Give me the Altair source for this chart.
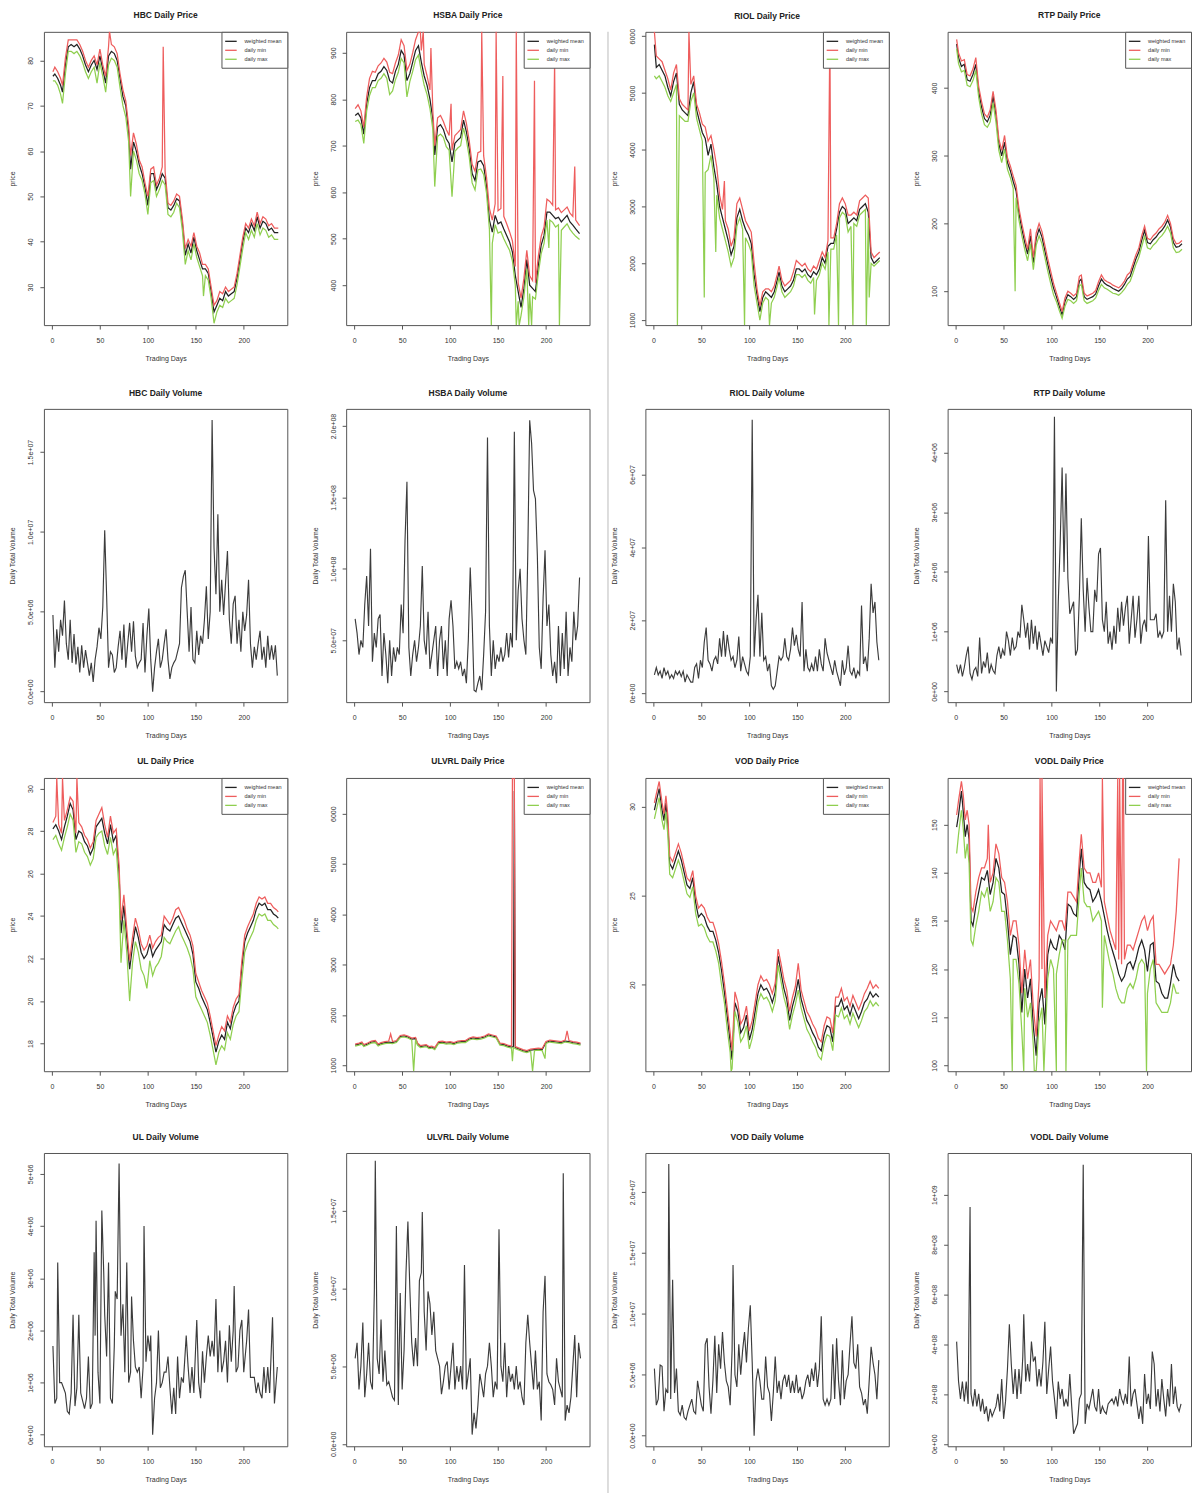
import altair as alt
import pandas as pd

FONT = "Liberation Sans"
TXT = "#333333"
W, H = 244, 294
XDOM = [-8.4, 245.4]
XTICKS = [0, 50, 100, 150, 200]
SERIES = ["weighted mean", "daily min", "daily max"]
COLORS = ["#222222", "#ee5d5d", "#8fcf4f"]
VOL_COLOR = "#3c3c3c"

# ---------------- price data ----------------
HBC_DAYS = [1,3,6,9,11,14,17,20,23,26,29,32,35,38,41,44,47,50,53,56,59,62,65,68,71,74,77,80,82,85,
            88,91,94,97,100,103,106,109,112,115,118,121,124,127,130,133,136,139,142,145,148,151,154,157,160,
            163,166,169,172,175,178,181,184,187,190,193,196,199,202,205,208,211,214,217,220,223,226,229,232,236]
HBC_MEAN = [76.5,77,76,74.5,73, 79,83,83.5,83,83.5, 82.5,81,79,77.5,79, 80,78,81,78,75, 81,82,81.5,80,76,
            72,70,64,56,62, 60,57,55,52,48, 55,55,51.5,53,55, 54,47.5,47,48,49.5, 49,44,37,39.5,37.5,
            41,38,36,34,34, 33,29,24.5,26,27.5, 27,29,28,28.5,29, 32,36,40,43,42, 44,42.5,45.5,43,44.5,
            44,42.5,43,42,42]
HBC_MIN = [77.5,78.5,77.5,76,74.5, 80.5,84.5,84.5,84.5,84.5, 83.5,82,80,78.5,80, 81,79,82.5,79,76.5,
           83,83.5,83,81.5,77, 73.5,71,65.5,59,64, 61.5,58,56.5,53,50, 56,56.5,52.5,54,56.5, 55.5,48.5,48,49,50.5,
           50,45,38.5,40.5,39, 42,39,37.5,35,35, 34,30,26,27,29, 28.5,30,29,29.5,30, 33,37,41,44,43,
           45,43.5,46.5,44,45.5, 45,43.5,44,43,43]
HBC_MAX = [75.5,75.5,74.5,72.5,70.5, 77,82,82,81.5,82, 81,79.5,77.5,76,77.5, 78.5,75,79.5,76.5,73,
           79,80.5,80,78.5,74, 70,67.5,62,50,60, 58,55,53.5,50.5,46, 53,53.5,50,51.5,53.5, 52.5,46,45.5,46.5,48.5,
           47.5,42.5,35,38,36, 39.5,36.5,34.5,32.5,32.5, 31.5,27.5,22,24.5,26, 25.5,27.5,26.5,27,27.5,
           30.5,34.5,38.5,42,40.5, 42.5,41,44,41.5,43, 42.5,41,41.5,40.5,40.5]
HBC_MIN_SPIKES = [(60, 86.4), (116, 83)]
HBC_MAX_SPIKES = [(158, 28)]

HSBA_DAYS = [1,4,7,10,13,16,19,22,25,28,31,34,37,40,43,46,49,52,55,58,61,64,67,70,73,76,79,82,84,87,
             90,93,96,99,102,105,108,111,114,117,120,123,126,129,132,135,138,141,144,147,150,153,156,159,162,
             165,168,171,174,177,180,183,186,189,192,195,198,201,204,207,210,213,216,219,222,225,228,231,235]
HSBA_MEAN = [765,770,760,725,790, 825,840,840,855,860, 870,862,840,835,860, 875,905,895,840,855,
             880,905,915,880,850, 830,800,757,680,740, 745,735,715,705,665, 705,712,718,755,730,
             693,640,625,665,668, 657,614,540,514,550, 532,536,521,507,493, 471,421,386,352,393,
             455,400,393,386,443, 486,507,557,557,550, 543,546,536,543,550, 536,529,521,511]
HSBA_MIN = [780,788,775,740,805, 845,860,858,872,878, 888,880,858,855,878, 895,928,915,862,875,
            900,928,945,905,875, 850,820,775,700,760, 765,752,735,722,690, 722,728,735,775,748,
            710,660,645,685,688, 678,632,565,540,575, 560,565,548,532,515, 495,440,405,372,415,
            475,420,410,405,462, 505,525,585,580,572, 562,566,556,562,568, 555,548,540,528]
HSBA_MAX = [752,755,745,705,775, 808,825,825,840,845, 855,845,810,818,842, 858,888,878,805,838,
            860,885,895,860,830, 810,780,735,612,720, 725,718,698,690,590, 688,695,700,738,712,
            675,620,605,648,650, 638,598,520,490,530, 512,515,500,487,475, 452,400,365,335,375,
            435,382,375,370,425, 468,490,540,540,535, 525,530,518,525,532, 520,512,505,498]
HSBA_MIN_SPIKES = [(69, 946), (72, 946), (80, 910), (101, 790), (133, 946), (148, 946), (155, 850),
                   (169, 946), (188, 840), (209, 880), (230, 655)]
HSBA_MAX_SPIKES = [(143, 313), (169, 313), (172, 313), (182, 313), (185, 313), (203, 480), (214, 313)]

RIOL_DAYS = [1,3,6,9,12, 15,18,21,24,27, 30,33,36,39,42, 45,48,51,54,57, 60,63,66,69,72, 75,78,81,84,87,
             90,93,96,99,102, 105,108,111,114,117, 120,123,126,129,131, 134,137,140,143,146, 149,152,155,158,161,
             164,167,170,173,176, 179,182,185,188,191, 194,197,200,203,206, 209,212,215,218,221, 224,227,230,233,236]
RIOL_MEAN = [5850,5450,5500,5400,5300, 5100,4950,5200,5350,4800, 4700,4650,4600,5000,5200, 4700,4500,4300,4200,3900,
             4100,3700,3400,3000,2800, 2600,2400,2150,2300,2800, 2950,2750,2600,2500,2350, 1800,1450,1150,1400,1500,
             1450,1400,1500,1700,1850, 1600,1500,1550,1600,1700, 1900,1900,1850,1900,1800, 1750,1850,1800,1900,2100,
             2000,2300,2350,2350,2600, 2900,3000,2950,2700,2750, 2800,2750,2950,3000,3050, 2900,2100,2000,2050,2100]
RIOL_MIN = [6076,5650,5600,5550,5400, 5250,5050,5350,5500,4900, 4800,4750,4700,5150,5300, 4800,4650,4450,4400,4150,
            4250,4000,3700,3200,2950, 2750,2600,2300,2450,3050, 3150,2950,2750,2650,2550, 2000,1550,1250,1500,1550,
            1550,1500,1600,1800,1950, 1700,1600,1650,1700,1850, 2050,2000,1950,2000,1900, 1850,1950,1900,2050,2200,
            2100,2400,2450,2450,2700, 3050,3150,3050,2850,2850, 2900,2850,3100,3150,3200, 3150,2200,2100,2150,2200]
RIOL_MAX = [5300,5250,5300,5200,5100, 4950,4850,5000,5150,4600, 4550,4500,4500,4850,5000, 4550,4350,4150,3600,3650,
            3900,3500,3200,2800,2600, 2400,2200,1950,2100,2650, 2800,2600,2450,2350,2200, 1600,1300,1000,1300,1400,
            1350,1300,1400,1600,1750, 1500,1400,1450,1500,1600, 1800,1800,1750,1800,1700, 1650,1750,1700,1800,2000,
            1900,2200,2250,2250,2500, 2800,2900,2850,2550,2650, 2700,2650,2850,2900,2950, 2800,2000,1950,2000,2050]
RIOL_MIN_SPIKES = [(37, 6076), (74, 3450), (184, 6076)]
RIOL_MAX_SPIKES = [(25, 912), (53, 1400), (65, 2200), (95, 912), (121, 912), (168, 1100), (183, 912),
                   (193, 912), (208, 912), (222, 912), (225, 1400)]

RTP_DAYS = RIOL_DAYS
RTP_MEAN = [465,445,432,435,412, 410,420,435,395,372, 355,350,360,388,360, 318,300,320,290,278,
            262,248,215,192,172, 155,182,142,178,192, 180,160,140,122,105, 92,78,65,85,95,
            92,88,92,115,118, 92,88,90,92,96, 108,118,112,109,107, 104,102,100,104,110,
            118,122,135,148,158, 175,190,172,170,176, 180,186,190,196,205, 195,172,165,166,170]
RTP_MIN = [472,452,440,442,420, 418,428,445,402,380, 362,357,368,395,368, 325,308,330,297,285,
           270,256,222,200,180, 162,192,150,186,200, 188,168,148,130,112, 98,84,70,90,100,
           97,93,97,122,124, 97,93,95,97,101, 114,124,117,114,112, 109,107,105,109,115,
           124,128,141,154,164, 182,196,178,176,182, 186,192,196,202,212, 200,178,170,171,175]
RTP_MAX = [458,436,424,426,404, 402,411,426,386,362, 346,342,350,378,350, 308,290,310,280,268,
           252,238,205,182,162, 145,170,132,168,182, 170,150,130,112,95, 85,72,60,78,88,
           86,82,86,108,110, 86,82,84,86,90, 101,110,105,103,100, 97,96,94,98,103,
           110,115,127,140,150, 166,181,164,162,168, 172,178,182,188,196, 186,164,157,158,162]
RTP_MIN_SPIKES = []
RTP_MAX_SPIKES = [(62, 100)]

UL_DAYS = [1,4,7,10,13, 16,19,22,25,28, 31,34,37,40,43, 46,49,52,55,58, 61,64,67,70,72, 75,78,81,84,87,
           90,93,96,99,102, 105,108,111,114,117, 120,123,126,129,132, 135,138,141,144,147, 150,153,156,159,162,
           165,168,171,174,177, 180,183,186,189,192, 195,198,201,204,207, 210,213,216,219,222, 225,228,231,234,236]
UL_MEAN = [28.1,28.3,28.0,27.6,28.2, 28.7,29.3,29.0,27.6,28.0, 27.9,27.5,27.3,26.9,27.2, 28.2,28.4,28.6,27.9,27.4,
           28.3,27.5,27.8,26.0,23.2, 24.5,23.0,21.5,22.6,23.5, 23.0,22.3,22.0,22.2,22.7, 22.1,22.4,22.6,22.8,23.6,
           23.4,23.3,23.6,23.9,24.0, 23.7,23.4,23.1,22.8,22.2, 20.9,20.6,20.2,19.9,19.6, 19.0,18.3,17.6,18.1,18.4,
           18.2,19.0,18.7,19.4,19.8, 20.0,21.6,22.8,23.2,23.5, 23.8,24.3,24.6,24.5,24.6, 24.3,24.3,24.1,24.0,23.9]
UL_MIN = [28.4,28.7,28.3,27.9,28.5, 29.0,29.6,29.4,27.9,28.4, 28.2,27.8,27.6,27.2,27.5, 28.5,28.8,29.1,28.3,27.7,
          28.7,27.9,28.1,26.4,23.8, 25.0,23.4,21.9,23.0,23.9, 23.4,22.7,22.4,22.6,23.1, 22.5,22.8,23.0,23.1,24.0,
          23.8,23.6,23.9,24.3,24.4, 24.1,23.8,23.4,23.1,22.6, 21.3,20.9,20.5,20.2,19.9, 19.3,18.6,17.9,18.4,18.8,
          18.6,19.3,19.0,19.7,20.1, 20.3,21.9,23.1,23.5,23.8, 24.1,24.6,24.9,24.8,24.9, 24.6,24.6,24.4,24.3,24.2]
UL_MAX = [27.6,27.8,27.4,27.1,27.7, 28.2,28.8,28.5,27.0,27.5, 27.4,27.0,26.8,26.4,26.7, 27.7,27.9,28.0,27.3,26.9,
          27.7,26.9,27.2,25.2,21.8, 23.8,22.3,20.0,21.8,22.8, 22.3,21.5,21.2,20.6,21.9, 21.2,21.6,21.8,22.1,23.0,
          22.8,22.7,23.0,23.3,23.5, 23.1,22.8,22.5,22.1,21.5, 20.2,19.9,19.6,19.3,19.0, 18.4,17.7,17.0,17.6,17.9,
          17.7,18.5,18.2,18.9,19.3, 19.5,21.0,22.3,22.7,23.0, 23.3,23.8,24.1,24.0,24.1, 23.8,23.8,23.6,23.5,23.4]
UL_MIN_SPIKES = [(5, 30.5), (11, 30.5), (26, 30.5)]
UL_MAX_SPIKES = []

ULVRL_DAYS = [1,5,8,10,14, 18,22,25,28,32, 36,40,44,48,52, 56,60,64,66,69, 72,75,78,81,84, 88,92,96,100,104,
              108,112,116,120,124, 128,132,136,140,144, 148,152,156,160,164, 166,167,168,172,176,
              180,184,188,192,196, 200,204,208,212,216, 220,224,228,232,236]
ULVRL_MEAN = [1400,1420,1440,1390,1420, 1460,1470,1400,1430,1450, 1460,1450,1470,1570,1580, 1560,1520,1530,1420,1370,
              1380,1390,1350,1360,1330, 1450,1460,1440,1450,1430, 1460,1470,1470,1520,1540, 1530,1540,1560,1600,1580,
              1560,1420,1410,1380,1360, 1370,6450,1350,1320,1290, 1270,1300,1310,1320,1310, 1450,1480,1470,1460,1450,
              1480,1470,1450,1440,1420]
ULVRL_MIN = [1420,1440,1460,1410,1440, 1480,1490,1420,1450,1470, 1480,1470,1490,1590,1600, 1580,1540,1550,1440,1390,
             1400,1410,1370,1380,1350, 1470,1480,1460,1470,1450, 1480,1490,1490,1540,1560, 1550,1560,1580,1620,1600,
             1580,1440,1430,1400,1380, 6710,6710,1370,1340,1310, 1290,1320,1330,1340,1330, 1470,1500,1490,1480,1470,
             1500,1490,1470,1460,1440]
ULVRL_MAX = [1380,1400,1420,1370,1400, 1440,1450,1380,1410,1430, 1440,1430,1450,1550,1560, 1540,1500,1510,1400,1350,
             1360,1370,1330,1340,1310, 1430,1440,1420,1430,1410, 1440,1450,1450,1500,1520, 1510,1520,1540,1580,1560,
             1540,1400,1390,1360,1340, 1350,1340,1330,1300,1270, 1250,1280,1290,1300,1290, 1430,1460,1450,1440,1430,
             1460,1450,1430,1420,1400]
ULVRL_MIN_SPIKES = [(38, 1620), (165, 6710), (222, 1680)]
ULVRL_MAX_SPIKES = [(62, 880), (165, 1080), (186, 880), (199, 1130)]

VOD_DAYS = [1,3,6,9,11,13,15,17, 20,23,26,29,32,35,38,41,44,47,50,53,56,59,62,65,68,71,74,77,80, 82,
            85,88,91,94,97,100,103,106,109,112,115,118,121,124,127,130,133,136,139,142,145,148,151,154,157,
            160,163,166,169,172,175,178,181,184,187,190,193,196,199,202,205,208,211,214,217,220,223,226,229,232,235]
VOD_MEAN = [29.8,30.3,31.0,29.8,29.2,30.2,29.0,26.8,
            26.5,27.0,27.5,27.0,26.3,25.6,25.4,26.0,24.6,23.8,24.0,23.8,23.3,23.0,23.0,22.5,21.8,20.8,19.6,18.2,16.8,
            15.8,
            19.0,18.5,17.3,17.6,18.3,16.9,17.5,18.5,19.5,20.0,19.7,19.8,19.5,19.0,19.6,21.6,20.7,19.8,19.2,18.0,
            18.8,19.4,20.3,19.2,18.6,18.0,17.7,17.3,17.0,16.5,16.3,17.2,17.7,17.6,16.8,18.8,18.8,19.2,18.6,18.8,
            18.3,18.9,18.5,18.1,18.5,19.0,19.2,19.6,19.3,19.5,19.3]
VOD_MIN = [30.2,30.7,31.4,30.2,29.6,30.6,29.5,27.2,
           26.9,27.4,27.9,27.4,26.7,26.0,25.8,26.4,25.0,24.3,24.5,24.3,23.8,23.5,23.5,23.0,22.3,21.3,20.1,18.7,17.3,
           16.3,
           19.6,19.0,17.8,18.1,18.8,17.4,18.0,19.0,20.0,20.5,20.2,20.3,20.0,19.5,20.1,22.0,21.2,20.3,19.7,18.5,
           19.3,19.9,21.2,19.7,19.1,18.5,18.2,17.8,17.5,17.0,16.8,17.7,18.2,18.1,17.3,19.3,19.3,19.8,19.1,19.3,
           18.8,19.4,19.0,18.6,19.0,19.5,19.8,20.2,19.8,20.0,19.8]
VOD_MAX = [29.3,29.8,30.5,29.2,28.7,29.7,28.4,26.2,
           26.0,26.5,27.0,26.5,25.8,25.1,24.9,25.5,24.0,23.3,23.4,23.2,22.7,22.4,22.4,21.9,21.2,20.0,19.0,17.5,16.2,
           15.3,
           18.5,17.9,16.8,17.1,17.7,16.4,17.0,17.9,19.0,19.5,19.2,19.3,19.0,18.5,19.1,21.1,20.2,19.3,18.7,17.5,
           18.3,18.9,19.7,18.7,18.1,17.5,17.2,16.8,16.5,16.0,15.8,16.7,17.2,17.1,16.3,18.3,18.2,18.7,18.1,18.3,
           17.8,18.4,18.0,17.6,18.0,18.5,18.7,19.1,18.8,19.0,18.8]
VOD_MIN_SPIKES = []
VOD_MAX_SPIKES = [(81, 15.15)]

VODL_DAYS = [1,3,6,8,10,12,14,16,18,
             21,24,27,30,33,36,39,42,45,48,51,54,57,60,63,66,69,72,75,78,81,84,87,90,93,96,99,102,105,108,
             111,114,117,120,123,126,129, 131,
             134,137,140,143,146,149,152,155,158,161,164,167,170,173,176,179,182,185,188,191,194,197,200,203,
             206,209,212,215,218,221,224,227,230,233]
VODL_MEAN = [149.5,152,157,152.5,147.5,150,147,130,129,
             133,136,139,138.5,140.5, 135.5,138,143,141,136, 135.5,130,123,127,126.5, 121,111,120,114,118,
             108,102,113,116,108.5, 123,126,124.5,124,127, 126,124,133.5,133,131.5, 131,140,
             145,
             138,137,136.5,134,135, 136.5,134,131,128,125.5, 123.5,121.5,119,117.5,118.5, 121,121.5,120,122,124.5,
             126,124,119.5,125,125.5, 117.5,117,115,114,114, 117,121,118.5,117.5]
VODL_MIN = [152,155,159,156,151,153,150,133,132,
            136,139,141,141,143, 138,140,146,144,139, 138,134,127,130,130, 125,115,124,118,122,
            112,106,118,120,114, 127,130,129,128,130, 130,128,136,136,135, 134,143,
            148,
            141,140,140,138,138, 140,137,134,131,128, 126,124,122,121,122, 125,125,124,126,128,
            130,131,128,130,131, 121,121,120,119,120, 121,125,132,143]
VODL_MAX = [144,148,153,149,143,146,142,126,125,
            129,132,136,135,137, 132,134,139,138,132, 132,126,118,122,122, 117,107,116,110,113,
            104,99,109,112,104, 118,122,120,119,123, 126,126,126,127,127, 127,136,
            141,
            134,133,133,130,131, 132,130,127,124,121, 119,116,114,113,113, 116,117,116,118,121,
            122,121,115,120,122, 113,112,111,111,111, 113,117,115,115]
VODL_MIN_SPIKES = [(34, 150), (88, 159.7), (90, 159.7), (153, 159.7), (169, 159.7), (171, 159.7), (174, 159.7), (175, 159.7)]
VODL_MAX_SPIKES = [(59, 98.8), (71, 98.8), (82, 98.8), (92, 98.8), (105, 98.8), (115, 98.8), (153, 112), (199, 98.8)]

# ---------------- volume data (scaled units) ----------------
ODD_DAYS = list(range(1, 236, 2))
HBC_VOL = [4.8,1.5,3.9,2.5,4.5,3.5,5.7,3.0,2.0,4.5, 1.8,3.6,1.7,2.8,1.2,2.9,1.5,2.6,1.8,1.0,
           1.8,0.6,2.0,2.8,4.0,3.3,5.3,10.1,6.0,1.5, 2.5,2.3,1.2,1.5,2.8,3.8,2.0,4.2,1.5,3.0,
           4.3,2.5,4.4,2.2,1.5,1.8,2.0,4.3,1.2,3.5, 5.2,2.0,0.0,1.5,2.5,3.3,1.5,2.0,3.0,3.9,
           2.0,0.8,1.5,1.8,2.0,2.5,3.0,6.5,7.2,7.6, 5.0,2.5,5.3,2.0,1.8,3.8,2.3,3.5,3.0,4.5,
           6.6,3.3,5.0,17.0,9.0,6.1,11.1,5.0,7.0,4.8, 6.8,8.8,4.5,3.0,5.5,6.0,3.0,4.5,2.5,5.0,
           3.8,4.8,7.0,3.0,1.5,2.8,2.0,3.0,3.8,2.0, 2.8,1.5,3.5,2.0,2.9,2.0,2.9,1.0]
HSBA_VOL = [6.5,5.5,4.0,5.0,4.5,7.5,9.5,6.0,11.4,3.5, 5.5,4.5,6.5,6.8,2.5,5.5,4.0,2.0,5.0,2.5,
            4.5,3.5,4.5,4.0,7.5,5.5,12.0,16.1,4.5,2.5, 4.0,5.0,3.5,4.5,6.0,10.2,5.0,4.0,7.0,3.0,
            4.0,5.0,6.0,2.5,5.0,6.0,3.0,5.0,2.5,6.5, 7.8,6.0,3.0,3.5,3.0,3.5,2.5,3.0,2.0,5.0,
            10.1,6.5,1.5,1.4,2.0,2.5,1.5,4.0,7.0,19.2, 6.0,2.5,5.0,3.0,4.0,3.5,4.5,3.5,4.0,5.5,
            3.8,5.5,4.5,19.6,5.0,8.5,10.0,6.5,5.0,4.0, 11.0,20.4,18.8,15.5,14.9,10.9,4.5,3.0,8.0,11.3,
            6.0,7.5,4.0,2.5,3.5,2.0,6.0,2.5,5.5,3.0, 7.0,2.5,4.5,3.5,7.0,5.0,6.0,9.4]
RIOL_VOL = [0.5,0.7,0.5,0.6,0.4,0.7,0.5,0.6,0.4,0.5, 0.4,0.6,0.5,0.6,0.45,0.6,0.3,0.5,0.4,0.3,
            0.3,0.7,0.8,0.4,0.9,0.7,1.4,1.8,0.9,0.8, 0.6,0.9,1.0,0.8,1.5,1.0,1.7,1.0,1.6,1.2,
            0.9,1.0,0.7,0.9,1.55,0.6,1.0,0.8,0.6,0.5, 1.0,7.5,1.0,2.0,2.7,1.0,2.2,0.9,1.0,0.6,
            0.8,0.2,0.1,0.2,0.6,1.0,0.9,1.0,1.5,1.0, 0.9,1.2,1.8,1.3,1.6,1.2,1.0,2.5,0.6,1.2,
            0.7,0.6,0.8,0.6,1.0,0.6,1.2,0.8,0.6,1.5, 1.1,0.9,0.7,0.5,0.9,0.6,0.4,0.2,0.9,0.5,
            0.7,1.3,0.6,0.5,0.7,0.4,0.6,0.5,2.4,0.8, 1.0,0.6,1.5,3.0,2.2,2.5,1.4,0.9]
RTP_VOL = [0.45,0.3,0.45,0.25,0.4,0.6,0.75,0.3,0.2,0.35, 0.4,0.25,0.9,0.3,0.5,0.4,0.65,0.3,0.45,0.35,
           0.3,0.6,0.75,0.55,0.7,0.6,1.0,0.85,0.6,0.9, 0.7,0.75,1.0,0.9,1.45,1.2,0.9,1.15,0.7,1.2,
           0.8,1.1,0.7,1.0,0.8,0.6,0.85,0.75,0.65,0.9, 0.8,4.6,0.0,1.5,2.5,3.75,2.0,3.65,1.9,1.3,
           1.4,1.5,0.6,0.7,1.6,2.9,1.7,1.0,1.9,1.4, 1.0,1.0,1.7,1.5,2.3,2.4,1.2,1.0,1.5,0.8,
           1.0,0.7,1.1,0.8,1.4,1.0,1.5,1.1,1.4,1.6, 0.8,1.2,1.6,0.9,1.2,1.6,0.8,1.1,1.2,1.0,
           2.6,1.2,1.2,1.2,1.3,0.9,1.0,0.9,1.0,3.2, 1.0,1.6,1.0,1.8,1.5,0.7,0.9,0.6]
UL_VOL = [(1,1.7),(3,0.6),(5,0.7),(6,3.3),(8,1.0),(10,1.0),(12,0.9),(14,0.8),(16,0.45),(18,0.4),(20,0.8),
          (22,2.3),(24,0.55),(26,0.9),(28,2.3),(30,0.8),(32,0.65),(34,0.5),(36,0.7),(38,1.5),(40,0.5),(42,0.6),
          (44,3.5),(45,1.9),(46,4.1),(48,1.2),(50,0.6),(52,4.3),(54,3.1),(55,2.3),(57,1.5),(59,3.3),(61,0.7),
          (63,0.6),(65,1.7),(66,2.75),(68,2.6),(70,5.2),(72,1.9),(74,2.5),(76,1.2),(78,3.3),(80,1.0),(82,1.2),
          (83,2.65),(85,1.8),(87,1.3),(89,1.2),(91,1.3),(93,0.7),(95,1.3),(96,4.0),(98,1.4),(100,1.9),(102,1.6),
          (103,1.9),(105,0.0),(107,0.7),(109,1.0),(111,2.0),(113,0.9),(115,1.0),(117,1.2),(119,1.2),(121,1.5),
          (123,0.9),(125,0.4),(127,0.9),(129,0.4),(131,1.5),(133,0.7),(135,1.1),(137,1.0),(140,1.9),(142,1.3),
          (144,0.8),(146,1.3),(148,0.8),(149,1.3),(151,2.2),(153,1.0),(155,0.7),(157,1.6),(159,1.0),(161,1.5),
          (163,1.9),(165,1.5),(167,1.8),(169,1.5),(171,2.6),(173,1.2),(175,2.0),(177,1.2),(179,1.4),(181,1.8),
          (183,1.0),(185,2.1),(187,1.4),(189,2.0),(190,2.85),(192,1.2),(194,1.3),(196,2.0),(198,2.2),(200,1.2),
          (202,1.6),(203,1.8),(205,2.4),(207,1.1),(209,1.1),(211,1.1),(213,0.8),(215,1.0),(217,0.8),(219,0.7),
          (221,1.3),(223,0.8),(225,1.3),(227,0.8),(230,2.25),(232,0.6),(235,1.3)]
ULVRL_VOL = [(1,5.5),(3,6.5),(5,3.5),(7,5.0),(9,7.8),(11,3.0),(13,4.5),(15,6.5),(17,4.0),(19,3.5),(21,9.8),
             (22,18.2),(24,5.5),(26,4.5),(28,8.0),(30,4.0),(32,6.0),(34,3.8),(36,4.0),(38,3.5),(40,3.0),(42,2.8),
             (44,14.0),(46,2.5),(48,9.7),(50,3.5),(52,6.0),(54,11.0),(56,14.3),(58,10.0),(60,6.5),(62,5.0),
             (64,6.8),(66,5.0),(68,10.5),(70,11.0),(71,14.9),(73,8.5),(75,6.0),(77,9.8),(79,9.0),(81,7.0),
             (83,8.5),(85,6.0),(87,5.5),(89,5.0),(91,3.2),(93,4.0),(95,5.0),(97,5.3),(99,3.5),(101,5.0),
             (103,6.5),(105,3.5),(107,5.0),(109,4.0),(111,5.0),(113,3.5),(115,11.5),(117,3.5),(119,4.5),
             (121,5.5),(123,0.6),(125,2.0),(127,1.0),(129,2.5),(131,4.5),(133,3.8),(135,3.0),(137,4.5),
             (139,5.0),(141,6.5),(143,5.0),(145,3.0),(147,4.0),(149,3.5),(151,13.8),(153,5.0),(155,4.0),
             (157,6.5),(159,3.0),(161,5.0),(163,4.0),(165,4.5),(167,3.5),(169,5.0),(171,3.5),(173,4.0),
             (175,3.0),(177,2.5),(179,6.5),(181,8.3),(183,6.5),(185,5.0),(187,3.5),(189,6.0),(191,3.5),
             (193,4.0),(195,1.5),(197,8.5),(199,10.8),(201,4.5),(203,4.0),(205,3.8),(207,3.5),(209,2.5),
             (211,5.5),(213,4.0),(215,3.5),(217,3.0),(218,17.4),(220,1.5),(222,2.5),(224,2.0),(226,3.0),
             (228,5.0),(230,7.0),(232,3.0),(234,6.5),(236,5.5)]
VOD_VOL = [(1,5.5),(3,2.5),(5,3.0),(7,5.8),(9,5.7),(11,2.0),(13,3.8),(15,3.5),(16,22.3),(18,3.0),(20,12.8),
           (22,3.5),(24,5.5),(26,2.0),(28,1.7),(30,2.5),(32,1.5),(34,1.3),(36,2.0),(38,2.5),(40,3.0),(42,2.0),
           (44,1.8),(46,4.5),(48,3.5),(50,2.5),(52,2.0),(54,7.5),(56,8.0),(58,4.0),(60,1.8),(62,4.5),(64,8.2),
           (66,3.5),(68,7.5),(70,5.5),(72,8.5),(74,6.0),(76,4.5),(78,4.0),(80,2.5),(82,7.0),(83,14.0),(85,5.0),
           (87,4.0),(89,7.5),(91,5.0),(93,7.0),(95,8.5),(97,6.0),(99,8.8),(101,10.7),(103,6.0),(105,0.0),
           (107,4.5),(109,5.5),(111,4.5),(113,3.0),(115,3.0),(117,6.5),(119,4.0),(121,3.5),(123,1.2),(125,3.5),
           (127,6.5),(129,3.5),(131,4.5),(133,3.0),(135,4.5),(137,5.0),(139,4.0),(141,5.0),(143,3.5),(145,4.5),
           (147,3.5),(149,5.0),(151,3.5),(153,4.0),(155,3.0),(157,3.5),(159,4.5),(161,5.0),(163,4.0),(165,5.5),
           (167,4.5),(169,6.0),(171,4.0),(173,5.5),(175,9.8),(177,3.0),(179,2.5),(181,3.0),(183,2.5),(185,3.0),
           (187,7.5),(189,3.0),(191,8.0),(193,4.5),(195,2.5),(197,7.0),(199,3.0),(201,4.5),(203,5.0),(205,7.5),
           (207,9.8),(209,6.0),(211,5.5),(213,7.5),(215,4.0),(217,3.5),(219,2.5),(221,3.0),(223,1.8),(225,4.5),
           (227,7.3),(229,6.0),(231,5.0),(233,3.0),(235,6.2)]
VODL_VOL = [(1,4.1),(3,2.5),(5,1.8),(7,2.5),(9,1.7),(11,2.5),(13,1.6),(15,9.5),(16,2.0),(18,1.5),(20,2.2),
            (22,1.5),(24,2.0),(26,1.3),(28,1.8),(30,1.2),(32,1.5),(34,0.9),(36,1.4),(38,1.1),(40,1.3),(42,1.5),
            (44,2.0),(46,1.3),(48,2.6),(50,1.0),(52,1.7),(54,3.0),(56,4.8),(58,3.2),(60,2.0),(62,3.0),(64,1.8),
            (66,3.0),(68,2.0),(70,3.5),(71,5.2),(73,2.5),(75,3.2),(77,2.5),(79,4.1),(81,3.3),(83,3.5),(85,2.3),
            (87,3.0),(89,2.3),(91,3.3),(93,4.9),(95,2.0),(97,3.0),(99,3.9),(101,2.5),(103,1.8),(105,1.0),
            (107,2.5),(109,1.8),(111,2.2),(113,1.5),(115,1.8),(117,1.5),(119,2.8),(121,1.5),(123,0.4),(125,0.6),
            (127,0.8),(129,1.8),(131,2.0),(133,11.2),(135,0.8),(137,1.6),(139,1.4),(141,1.8),(143,2.2),(145,1.5),
            (147,1.3),(149,2.2),(151,1.2),(153,1.5),(155,1.3),(157,1.2),(159,1.6),(161,1.7),(163,1.8),(165,1.6),
            (167,1.9),(169,1.5),(171,2.2),(173,1.8),(175,1.6),(177,2.0),(179,1.6),(181,3.5),(183,1.5),(185,2.0),
            (187,2.2),(189,1.6),(191,1.0),(193,1.5),(195,0.8),(197,2.8),(199,1.6),(201,2.0),(203,1.4),(205,3.7),
            (207,3.2),(209,1.5),(211,2.2),(213,1.3),(215,2.6),(217,1.8),(219,1.1),(221,2.2),(223,1.5),(225,3.2),
            (227,1.6),(229,2.3),(231,1.5),(233,1.3),(235,1.6)]

# axis tick values and R-style labels
HBC_VTICKS, HBC_VLAB = [0, 5, 10, 15], ["0.0e+00", "5.0e+06", "1.0e+07", "1.5e+07"]
HSBA_VTICKS, HSBA_VLAB = [5, 10, 15, 20], ["5.0e+07", "1.0e+08", "1.5e+08", "2.0e+08"]
RIOL_VTICKS, RIOL_VLAB = [0, 2, 4, 6], ["0e+00", "2e+07", "4e+07", "6e+07"]
RTP_VTICKS, RTP_VLAB = [0, 1, 2, 3, 4], ["0e+00", "1e+06", "2e+06", "3e+06", "4e+06"]
UL_VTICKS, UL_VLAB = [0, 1, 2, 3, 4, 5], ["0e+00", "1e+06", "2e+06", "3e+06", "4e+06", "5e+06"]
ULVRL_VTICKS, ULVRL_VLAB = [0, 5, 10, 15], ["0.0e+00", "5.0e+06", "1.0e+07", "1.5e+07"]
VOD_VTICKS, VOD_VLAB = [0, 5, 10, 15, 20], ["0.0e+00", "5.0e+06", "1.0e+07", "1.5e+07", "2.0e+07"]
VODL_VTICKS, VODL_VLAB = [0, 2, 4, 6, 8, 10], ["0e+00", "2e+08", "4e+08", "6e+08", "8e+08", "1e+09"]

# separator line (spans its whole panel)
SEP_Y0 = [0.0]
SEP_Y1 = [1.0]

TITLE_OFFSET = 11.5


def label_expr(ticks, labels):
    expr = "''"
    for t, l in reversed(list(zip(ticks, labels))):
        expr = f"(abs(datum.value - ({t})) < 1e-9 ? '{l}' : {expr})"
    return expr


def x_enc():
    return alt.X("day:Q", scale=alt.Scale(domain=XDOM, nice=False, zero=False),
                 axis=alt.Axis(values=XTICKS, format="d", title="Trading Days", tickSize=4,
                               labelPadding=7, minExtent=18, maxExtent=18, titlePadding=11,
                               labelOverlap=False, labelFlush=False))


def y_enc(title, dom, ticks, labels=None):
    kw = dict(values=ticks, title=title, labelAngle=270, labelAlign="center", labelBaseline="bottom",
              tickSize=4, labelPadding=6, minExtent=18, maxExtent=18, titlePadding=10, labelOverlap=False)
    if labels is None:
        kw["format"] = "d"
    else:
        kw["labelExpr"] = label_expr(ticks, labels)
    return alt.Y("value:Q", scale=alt.Scale(domain=dom, nice=False, zero=False), axis=alt.Axis(**kw))


def title(text, offset=TITLE_OFFSET):
    return alt.TitleParams(text=text, fontSize=8.5, fontWeight="bold", font=FONT, color="#222222",
                           offset=offset, anchor="middle", frame="group")


def price_chart(name, days, mean, mn, mx, mn_spk, mx_spk, dom, ticks, toff=TITLE_OFFSET):
    recs = []
    for s, vals, spk in ((SERIES[0], mean, []), (SERIES[1], mn, mn_spk), (SERIES[2], mx, mx_spk)):
        pts = sorted(list(zip(days, vals)) + list(spk))
        for d, v in pts:
            recs.append({"day": d, "value": v, "series": s})
    df = pd.DataFrame(recs)
    color = alt.Color("series:N", scale=alt.Scale(domain=SERIES, range=COLORS),
                      legend=alt.Legend(title=None, orient="top-right", offset=0, padding=5,
                                        labelFontSize=5.5, labelFont=FONT, labelColor=TXT,
                                        symbolType="M-1.6,0H1.6", symbolSize=52, symbolStrokeWidth=1.3,
                                        strokeColor="#555555", fillColor="white", rowPadding=1,
                                        labelOffset=9))
    layers = []
    for s in SERIES:
        layers.append(alt.Chart(df).transform_filter(alt.datum.series == s)
                      .mark_line(clip=True, strokeWidth=1.25)
                      .encode(x=x_enc(), y=y_enc("price", dom, ticks), color=color))
    return alt.layer(*layers).properties(width=W, height=H, title=title(name + " Daily Price", toff))


def volume_chart(name, pts, dom, ticks, labels):
    df = pd.DataFrame({"day": [p[0] for p in pts], "value": [p[1] for p in pts]})
    return (alt.Chart(df).mark_line(clip=True, color=VOL_COLOR, strokeWidth=1.15)
            .encode(x=x_enc(), y=y_enc("Daily Total Volume", dom, ticks, labels))
            .properties(width=W, height=H, title=title(name + " Daily Volume")))


def ind(c):
    return c.resolve_scale(color="independent", x="independent", y="independent")


hbc_p = price_chart("HBC", HBC_DAYS, HBC_MEAN, HBC_MIN, HBC_MAX, HBC_MIN_SPIKES, HBC_MAX_SPIKES, [21.6, 86.3], [30, 40, 50, 60, 70, 80])
hsba_p = price_chart("HSBA", HSBA_DAYS, HSBA_MEAN, HSBA_MIN, HSBA_MAX, HSBA_MIN_SPIKES, HSBA_MAX_SPIKES, [314, 945], [400, 500, 600, 700, 800, 900])
riol_p = price_chart("RIOL", RIOL_DAYS, RIOL_MEAN, RIOL_MIN, RIOL_MAX, RIOL_MIN_SPIKES, RIOL_MAX_SPIKES, [912, 6076], [1000, 2000, 3000, 4000, 5000, 6000], toff=TITLE_OFFSET - 4)
rtp_p = price_chart("RTP", RTP_DAYS, RTP_MEAN, RTP_MIN, RTP_MAX, RTP_MIN_SPIKES, RTP_MAX_SPIKES, [50, 483], [100, 200, 300, 400])
ul_p = price_chart("UL", UL_DAYS, UL_MEAN, UL_MIN, UL_MAX, UL_MIN_SPIKES, UL_MAX_SPIKES, [16.7, 30.5], [18, 20, 22, 24, 26, 28, 30])
ulvrl_p = price_chart("ULVRL", ULVRL_DAYS, ULVRL_MEAN, ULVRL_MIN, ULVRL_MAX, ULVRL_MIN_SPIKES, ULVRL_MAX_SPIKES, [880, 6710], [1000, 2000, 3000, 4000, 5000, 6000])
vod_p = price_chart("VOD", VOD_DAYS, VOD_MEAN, VOD_MIN, VOD_MAX, VOD_MIN_SPIKES, VOD_MAX_SPIKES, [15.15, 31.6], [20, 25, 30])
vodl_p = price_chart("VODL", VODL_DAYS, VODL_MEAN, VODL_MIN, VODL_MAX, VODL_MIN_SPIKES, VODL_MAX_SPIKES, [98.8, 159.7], [100, 110, 120, 130, 140, 150])

hbc_v = volume_chart("HBC", list(zip(ODD_DAYS, HBC_VOL)), [-0.66, 17.7], HBC_VTICKS, HBC_VLAB)
hsba_v = volume_chart("HSBA", list(zip(ODD_DAYS, HSBA_VOL)), [0.67, 21.2], HSBA_VTICKS, HSBA_VLAB)
riol_v = volume_chart("RIOL", list(zip(ODD_DAYS, RIOL_VOL)), [-0.25, 7.8], RIOL_VTICKS, RIOL_VLAB)
rtp_v = volume_chart("RTP", list(zip(ODD_DAYS, RTP_VOL)), [-0.18, 4.73], RTP_VTICKS, RTP_VLAB)
ul_v = volume_chart("UL", UL_VOL, [-0.22, 5.4], UL_VTICKS, UL_VLAB)
ulvrl_v = volume_chart("ULVRL", ULVRL_VOL, [-0.15, 18.7], ULVRL_VTICKS, ULVRL_VLAB)
vod_v = volume_chart("VOD", VOD_VOL, [-0.87, 23.2], VOD_VTICKS, VOD_VLAB)
vodl_v = volume_chart("VODL", VODL_VOL, [-0.1, 11.67], VODL_VTICKS, VODL_VLAB)

sep = (alt.Chart(pd.DataFrame({"y0": SEP_Y0, "y1": SEP_Y1}))
       .mark_rule(color="#d2d2d2", strokeWidth=1.5)
       .encode(x=alt.value(0.5),
               y=alt.Y("y0:Q", scale=alt.Scale(domain=[0, 1]), axis=None),
               y2="y1:Q")
       .properties(width=1, height=1476, view=alt.ViewBackground(strokeOpacity=0)))

COL_SP = 22
S12, S23, S34 = 26, 18, 24
left = ind(alt.vconcat(
    ind(alt.vconcat(ind(alt.hconcat(hbc_p, hsba_p, spacing=COL_SP)),
                    ind(alt.hconcat(hbc_v, hsba_v, spacing=COL_SP)), spacing=S12)),
    ind(alt.vconcat(ind(alt.hconcat(ul_p, ulvrl_p, spacing=COL_SP)),
                    ind(alt.hconcat(ul_v, ulvrl_v, spacing=COL_SP)), spacing=S34)),
    spacing=S23))
right = ind(alt.vconcat(
    ind(alt.vconcat(ind(alt.hconcat(riol_p, rtp_p, spacing=COL_SP)),
                    ind(alt.hconcat(riol_v, rtp_v, spacing=COL_SP)), spacing=S12)),
    ind(alt.vconcat(ind(alt.hconcat(vod_p, vodl_p, spacing=COL_SP)),
                    ind(alt.hconcat(vod_v, vodl_v, spacing=COL_SP)), spacing=S34)),
    spacing=S23))

chart = (ind(alt.hconcat(ind(alt.hconcat(left, sep, spacing=16)), right, spacing=0))
         .properties(padding={"left": 0, "top": 1, "right": 0, "bottom": 0}, background="white")
         .configure_view(stroke="#555555", strokeWidth=1)
         .configure_axis(labelFont=FONT, titleFont=FONT, labelFontSize=7, titleFontSize=7,
                         labelColor=TXT, titleColor=TXT, tickColor="#555555", tickWidth=1,
                         domain=False, grid=False, titleFontWeight="normal")
         .configure_legend(labelFont=FONT))

chart.save("out.html", embed_options={"renderer": "svg", "actions": False})
